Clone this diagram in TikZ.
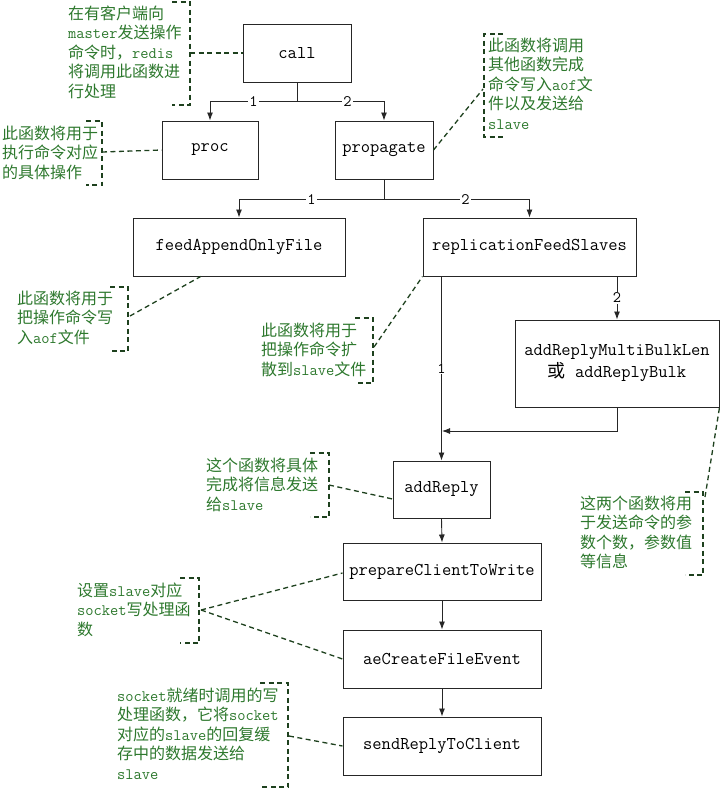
\documentclass[tikz,border=0pt]{standalone}
\usepackage{fontspec}
\newfontfamily\cjk{Noto Sans CJK SC}
\newcommand{\zh}[1]{{\cjk #1}}
\usetikzlibrary{arrows.meta,calc,positioning}

\definecolor{notegreen}{RGB}{45,120,45}
\definecolor{dashgreen}{RGB}{30,65,30}

\tikzset{
  fn/.style={draw=black!85, line width=1pt, inner sep=0pt,
    font=\fontsize{18}{22}\selectfont\ttfamily},
  % anchored at the baseline of the last line
  note/.style={text=notegreen, inner sep=0pt, anchor=base west, align=left,
    font=\fontsize{16}{19.5}\selectfont\ttfamily},
  lead/.style={draw=dashgreen, line width=1.3pt, dash pattern=on 5pt off 3.5pt},
  wire/.style={draw=black!85, line width=0.9pt},
  flow/.style={wire, -{Latex[length=8pt,width=6pt]}},
  num/.style={fill=white, inner sep=1pt, font=\fontsize{16}{16}\selectfont\ttfamily},
}

\begin{document}
\begin{tikzpicture}[x=1pt,y=-1pt]
    \useasboundingbox (0,0) rectangle (720,788);

    %% call tree
    \node[fn, minimum width=108pt, minimum height=58pt] (call) at (297,53) {call};
    \node[fn, minimum width=96pt, minimum height=58pt] (proc) at (210,150) {proc};
    \node[fn, minimum width=98pt, minimum height=58pt] (propagate) at (384,150) {propagate};
    \node[fn, minimum width=212pt, minimum height=58pt] (feed) at (239,247) {feedAppendOnlyFile};
    \node[fn, minimum width=213pt, minimum height=58pt] (repl) at (529.5,247) {replicationFeedSlaves};
    \node[fn, minimum width=204pt, minimum height=87pt, align=center] (multi) at (617,363.5)
        {addReplyMultiBulkLen\\\zh{或} addReplyBulk};
    \node[fn, minimum width=97pt, minimum height=57pt] (addReply) at (441.5,489.5) {addReply};
    \node[fn, minimum width=198pt, minimum height=57pt] (prepare) at (442,571.5) {prepareClientToWrite};
    \node[fn, minimum width=198pt, minimum height=58pt] (ae) at (442,659) {aeCreateFileEvent};
    \node[fn, minimum width=198pt, minimum height=58pt] (send) at (442,746) {sendReplyToClient};

    %% calls
    \draw[wire] (call.south) -- ++(0,19) coordinate (j1);
    \draw[flow] (j1) -| node[num, pos=0.25] {1} (proc.north);
    \draw[flow] (j1) -| node[num, pos=0.29] {2} (propagate.north);

    \draw[wire] (propagate.south) -- ++(0,20) coordinate (j2);
    \draw[flow] (j2) -| node[num, pos=0.25] {1} (feed.north);
    \draw[flow] (j2) -| node[num, pos=0.28] {2} (repl.north);

    \draw[flow] (addReply.north |- repl.south) -- node[num] {1} (addReply.north);
    \draw[flow] (multi.north |- repl.south) -- node[num] {2} (multi.north);
    \coordinate (merge) at (442,431);
    \draw[flow] (multi.south) |- (merge);

    \draw[flow] (addReply.south) -- (prepare.north);
    \draw[flow] (prepare.south) -- (ae.north);
    \draw[flow] (ae.south) -- (send.north);

    %% notes
    \node[note] (t1) at (68,97) {\zh{在有客户端向}\\master\zh{发送操作}\\\zh{命令时，}redis\\\zh{将调用此函数进}\\\zh{行处理}};
    \draw[lead] (172,2) -- (190,2) -- (190,105) -- (172,105);
    \coordinate (b1) at (190,53);
    \draw[lead] (b1) -- (call.west);

    \node[note] (t2) at (2,178) {\zh{此函数将用于}\\\zh{执行命令对应}\\\zh{的具体操作}};
    \draw[lead] (86,121) -- (102,121) -- (102,185) -- (86,185);
    \coordinate (b2) at (102,152);
    \draw[lead] (b2) -- (proc.west);

    \node[note] (t3) at (488,129) {\zh{此函数将调用}\\\zh{其他函数完成}\\\zh{命令写入}aof\zh{文}\\\zh{件以及发送给}\\slave};
    \draw[lead] (503,34) -- (484,34) -- (484,137) -- (503,137);
    \coordinate (b3) at (483,89);
    \draw[lead] (propagate.east) -- (b3);

    \node[note] (t4) at (17,343) {\zh{此函数将用于}\\\zh{把操作命令写}\\\zh{入}aof\zh{文件}};
    \draw[lead] (110,287) -- (128,287) -- (128,351) -- (110,351);
    \coordinate (b4) at (130,316);
    \draw[lead] (b4) -- ($(feed.south west)!0.32!(feed.south east)$);

    \node[note] (t5) at (261,375) {\zh{此函数将用于}\\\zh{把操作命令扩}\\\zh{散到}slave\zh{文件}};
    \draw[lead] (355,318) -- (373,318) -- (373,383) -- (355,383);
    \coordinate (b5) at (374,347);
    \draw[lead] (b5) -- (repl.south west);

    \node[note] (t6) at (206,510) {\zh{这个函数将具体}\\\zh{完成将信息发送}\\\zh{给}slave};
    \draw[lead] (310,453) -- (329,453) -- (329,517) -- (310,517);
    \coordinate (b6) at (329,485);
    \draw[lead] (b6) -- ([yshift=-9.5pt]addReply.west);

    \node[note] (t7) at (580,567.5) {\zh{这两个函数将用}\\\zh{于发送命令的参}\\\zh{数个数，参数值}\\\zh{等信息}};
    \draw[lead] (685,492) -- (703,492) -- (703,575) -- (685,575);
    \coordinate (b7) at (705,497);
    \draw[lead] (b7) -- (multi.south east);

    \node[note] (t8) at (77,635) {\zh{设置}slave\zh{对应}\\socket\zh{写处理函}\\\zh{数}};
    \draw[lead] (180,578) -- (199,578) -- (199,643) -- (180,643);
    \coordinate (b8) at (201,610);
    \draw[lead] (b8) -- ([yshift=-1.5pt]prepare.west);
    \draw[lead] (b8) -- (ae.west);

    \node[note] (t9) at (117,779) {socket\zh{就绪时调用的写}\\\zh{处理函数，它将}socket\\\zh{对应的}slave\zh{的回复缓}\\\zh{存中的数据发送给}\\slave};
    \draw[lead] (260,683) -- (288,683) -- (288,787) -- (260,787);
    \coordinate (b9) at (289,736);
    \draw[lead] (b9) -- (send.west);
\end{tikzpicture}
\end{document}
